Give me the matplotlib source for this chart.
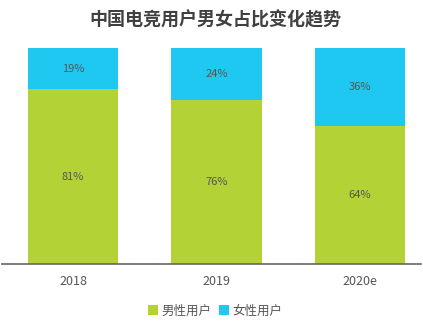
import matplotlib
matplotlib.use("Agg")
import matplotlib.pyplot as plt
import numpy as np

plt.rcParams['font.family'] = ['Noto Sans CJK SC', 'DejaVu Sans']

years = ['2018', '2019', '2020e']
male = [81, 76, 64]
female = [19, 24, 36]

green = '#b2d235'
blue = '#1fc8f0'
txt = '#555555'

fig = plt.figure(figsize=(4.23, 3.24), dpi=100)
ax = fig.add_axes([2 / 423, 60 / 324, 419 / 423, 216 / 324])

x = np.arange(len(years))
w = 0.63
ax.bar(x, male, w, color=green, label='男性用户')
ax.bar(x, female, w, bottom=male, color=blue, label='女性用户')

for i in range(len(years)):
    ax.text(x[i], male[i] / 2, f'{male[i]}%', ha='center', va='center', fontsize=8, color=txt)
    ax.text(x[i], male[i] + female[i] / 2, f'{female[i]}%', ha='center', va='center', fontsize=8, color=txt)

ax.set_xlim(-0.495, 2.425)
ax.set_ylim(0, 100)
ax.set_xticks(x)
ax.set_xticklabels(years, fontsize=9, color=txt)
ax.tick_params(axis='x', length=0, pad=8)
ax.set_yticks([])
for s in ['top', 'right', 'left']:
    ax.spines[s].set_visible(False)
ax.spines['bottom'].set_color('#666666')
ax.spines['bottom'].set_linewidth(1.2)

fig.text(215 / 423, 1 - 20 / 324, '中国电竞用户男女占比变化趋势', ha='center', va='center',
         fontsize=13, fontweight='bold', color='#404040')

fig.legend(loc='center', bbox_to_anchor=(215 / 423, 1 - 311 / 324), ncol=2, frameon=False,
           fontsize=9, handlelength=0.8, handleheight=0.8, handletextpad=0.3, columnspacing=0.6,
           labelcolor=txt)

fig.savefig('out.png', dpi=100)
